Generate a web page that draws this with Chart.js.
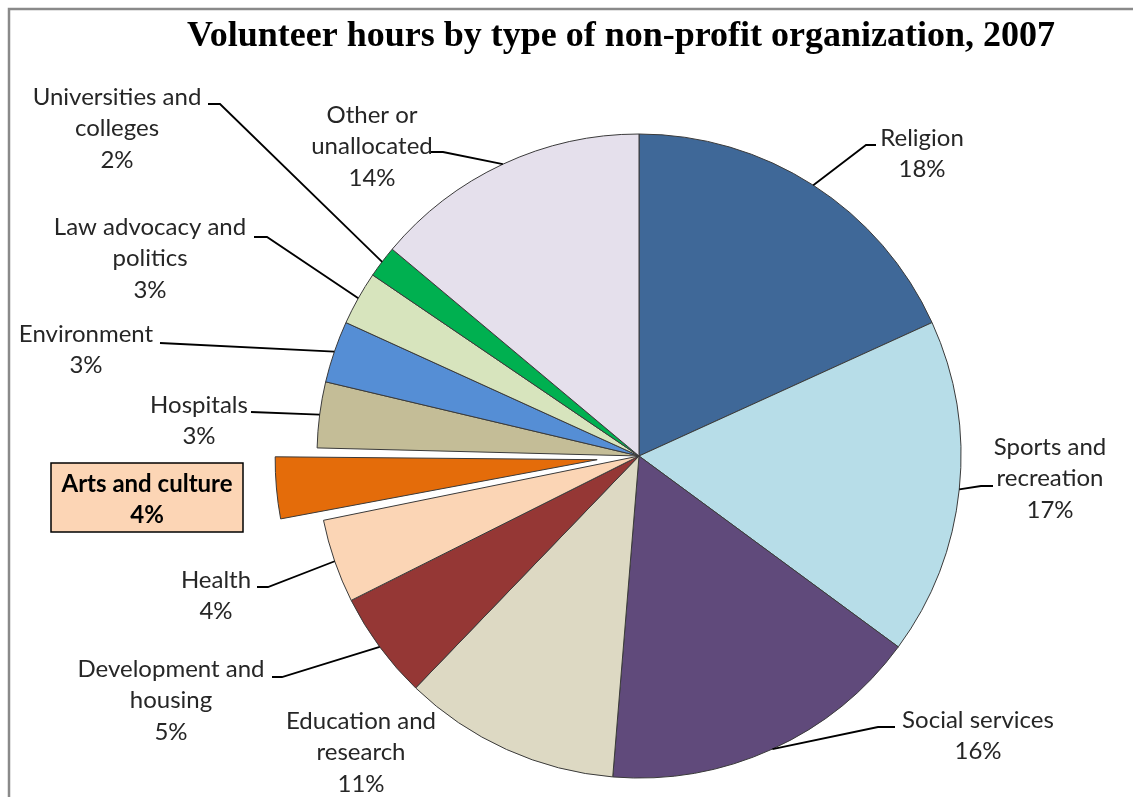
<!DOCTYPE html>
<html>
<head>
<meta charset="utf-8">
<title>Volunteer hours by type of non-profit organization, 2007</title>
<script src="https://cdn.jsdelivr.net/npm/chart.js@4.4.1/dist/chart.umd.min.js"></script>
<style>
  html, body { margin: 0; padding: 0; background: #fff; }
  #wrap { position: relative; width: 1133px; height: 797px; }
</style>
</head>
<body>
<div id="wrap"><canvas id="pie"></canvas></div>
<script>
// ---- data (shares in % of volunteer hours) ----
const categories = [
  'Religion', 'Sports and recreation', 'Social services', 'Education and research',
  'Development and housing', 'Health', 'Arts and culture', 'Hospitals',
  'Environment', 'Law advocacy and politics', 'Universities and colleges', 'Other or unallocated',
];
const shares = [18.2, 16.9, 16.2, 10.9, 5.4, 4.2, 3.6, 3.3, 3.1, 2.7, 1.6, 13.9];
// category names wrapped the way the picture shows them
const labelLines = [
  ['Religion'], ['Sports and', 'recreation'], ['Social services'], ['Education and', 'research'],
  ['Development and', 'housing'], ['Health'], ['Arts and culture'], ['Hospitals'],
  ['Environment'], ['Law advocacy and', 'politics'], ['Universities and', 'colleges'], ['Other or', 'unallocated'],
];
const highlighted = 'Arts and culture';
const chartTitle = 'Volunteer hours by type of non-profit organization, 2007';

// ---- styles ----
const sliceColors = [
  '#3f6898', '#b7dde8', '#604a7b', '#ddd9c3', '#953735', '#fbd5b5',
  '#e46c0a', '#c4bd97', '#558ed5', '#d7e4bd', '#00b050', '#e5e0ec',
];
const EXPLODE = 42; // px the highlighted slice is pulled out

// label placement: first line centre, optional leader elbow and stub end
const labelLayout = [
  { x: 922, y: 138, elbow: [866, 145], end: [876, 145] },
  { x: 1050, y: 447, elbow: [981, 486], end: [993, 486] },
  { x: 978, y: 720, elbow: [878, 727], end: [895, 727] },
  { x: 361, y: 721 },
  { x: 171, y: 669, elbow: [282, 677], end: [272, 677] },
  { x: 216, y: 580, elbow: [268, 587], end: [257, 587] },
  { x: 147, y: 484, box: [51, 463, 243, 532] },
  { x: 199, y: 405, end: [251, 412] },
  { x: 86, y: 334, end: [160, 343] },
  { x: 150, y: 227, elbow: [267, 237], end: [254, 237] },
  { x: 117, y: 97, elbow: [220, 104], end: [208, 104] },
  { x: 372, y: 115, elbow: [443, 152], end: [430, 152] },
];
const LINE_H = 31.5;
const FONT = '24px Lato';

const total = shares.reduce((a, b) => a + b, 0);
const pct = v => Math.round(v / total * 100) + '%';

// Chart.js v4 grows an offset arc's radius by (offset/4)*(1-sin(circ)); undo that
// so the pulled-out slice keeps the pie's radius, like Excel does.
const explodeFix = {
  id: 'explodeFix',
  afterDatasetUpdate(chart, args) {
    args.meta.data.forEach((arc, i) => {
      if (categories[i] !== highlighted) return;
      const circ = arc.endAngle - arc.startAngle;
      arc.outerRadius -= EXPLODE * (1 - Math.sin(Math.min(Math.PI, circ)));
    });
  },
};

// frame + title
const framePlugin = {
  id: 'frame',
  beforeDraw(chart) {
    const ctx = chart.ctx;
    ctx.save();
    ctx.strokeStyle = '#8a8a8a';
    ctx.lineWidth = 2.5;
    ctx.beginPath();
    ctx.moveTo(9, chart.height + 5);
    ctx.lineTo(9, 9);
    ctx.lineTo(chart.width + 5, 9);
    ctx.stroke();
    ctx.fillStyle = '#000';
    ctx.font = 'bold 36px "Liberation Serif"';
    ctx.textAlign = 'center';
    ctx.textBaseline = 'middle';
    ctx.fillText(chartTitle, 621, 37);
    ctx.restore();
  },
};

// outside labels with leader lines (Excel style)
const labelPlugin = {
  id: 'outLabels',
  afterDatasetsDraw(chart) {
    const ctx = chart.ctx;
    const arcs = chart.getDatasetMeta(0).data;
    ctx.save();
    arcs.forEach((arc, i) => {
      const L = labelLayout[i];
      const p = arc.getProps(['x', 'y', 'startAngle', 'endAngle', 'outerRadius'], true);
      const mid = (p.startAngle + p.endAngle) / 2;
      if (L.end) {
        const ax = p.x + Math.cos(mid) * p.outerRadius;
        const ay = p.y + Math.sin(mid) * p.outerRadius;
        ctx.strokeStyle = '#000';
        ctx.lineWidth = 1.8;
        ctx.beginPath();
        ctx.moveTo(ax, ay);
        if (L.elbow) ctx.lineTo(L.elbow[0], L.elbow[1]);
        ctx.lineTo(L.end[0], L.end[1]);
        ctx.stroke();
      }
      const lines = labelLines[i].concat([pct(shares[i])]);
      const isHi = categories[i] === highlighted;
      if (L.box) {
        const [x0, y0, x1, y1] = L.box;
        ctx.fillStyle = '#fcd5b5';
        ctx.fillRect(x0, y0, x1 - x0, y1 - y0);
        ctx.strokeStyle = '#000';
        ctx.lineWidth = 1.5;
        ctx.strokeRect(x0, y0, x1 - x0, y1 - y0);
      }
      ctx.fillStyle = isHi ? '#000' : '#262626';
      ctx.font = (isHi ? 'bold ' : '') + FONT;
      ctx.textAlign = 'center';
      ctx.textBaseline = 'middle';
      lines.forEach((t, k) => ctx.fillText(t, L.x, L.y + k * LINE_H));
    });
    ctx.restore();
  },
};

new Chart(document.getElementById('pie'), {
  type: 'pie',
  data: {
    labels: categories,
    datasets: [{
      data: shares,
      backgroundColor: sliceColors,
      borderColor: '#3a3a3a',
      borderWidth: 1,
      offset: categories.map(c => (c === highlighted ? EXPLODE * 4 : 0)),
    }],
  },
  options: {
    responsive: true,
    maintainAspectRatio: false,
    animation: false,
    radius: 322,
    layout: { padding: { left: 309, right: 164, top: 126, bottom: 11 } },
    plugins: { legend: { display: false }, title: { display: false }, tooltip: { enabled: false } },
    events: [],
  },
  plugins: [explodeFix, framePlugin, labelPlugin],
});
</script>
</body>
</html>
